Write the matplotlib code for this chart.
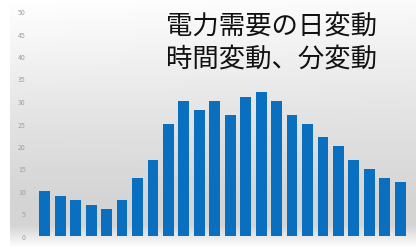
import numpy as np
import matplotlib
matplotlib.use("Agg")
import matplotlib.pyplot as plt

plt.rcParams['font.family'] = ['Noto Sans CJK JP', 'DejaVu Sans']

hours = list(range(24))
demand = [10, 9, 8, 7, 6, 8, 13, 17, 25, 30, 28, 30, 27, 31, 32, 30, 27, 25, 22, 20, 17, 15, 13, 12]
yticks = [0, 5, 10, 15, 20, 25, 30, 35, 40, 45, 50]
title_lines = ["電力需要の日変動", "時間変動、分変動"]

W, H = 416, 253
fig = plt.figure(figsize=(W / 100, H / 100), dpi=100)
fig.patch.set_facecolor('white')

# background gradient panel
bg = fig.add_axes([10 / W, 6 / H, (W - 10) / W, (H - 6) / H], zorder=0)
rows = np.linspace(0, 1, 300)[:, None]
cols = np.linspace(0, 1, 300)[None, :]
v = 0.985 - 0.15 * np.clip(rows / 0.8, 0, 1) ** 0.9
v = np.where(rows > 0.92, 0.835 + (rows - 0.92) / 0.08 * 0.15, v)
v = v + 0.02 * (1 - cols) * np.exp(-((rows - 0.1) / 0.3) ** 2)
img = np.clip(v + 0 * cols, 0, 1)
bg.imshow(np.dstack([img, img, img]), aspect='auto', extent=[0, 1, 1, 0])
bg.set_xlim(0, 1)
bg.set_ylim(1, 0)
bg.axis('off')

ax = fig.add_axes([37 / W, 16 / H, (408 - 37) / W, 225 / H], zorder=1)
ax.patch.set_alpha(0)
ax.bar(hours, demand, width=0.7, color='#0b6fc0', edgecolor='none')
ax.set_xlim(-0.5, 23.5)
ax.set_ylim(0, 50)
ax.set_yticks(yticks)
ax.set_yticklabels([str(t) for t in yticks], fontsize=5, color='#a0a0a0')
ax.tick_params(axis='y', length=0, pad=8)
ax.set_xticks([])
for s in ax.spines.values():
    s.set_visible(False)

fig.text(272 / W, 1 - 26 / H, title_lines[0], fontsize=19, ha='center', va='center', color='#111111')
fig.text(272 / W, 1 - 59 / H, title_lines[1], fontsize=19, ha='center', va='center', color='#111111')

fig.savefig('out.png', dpi=100)
